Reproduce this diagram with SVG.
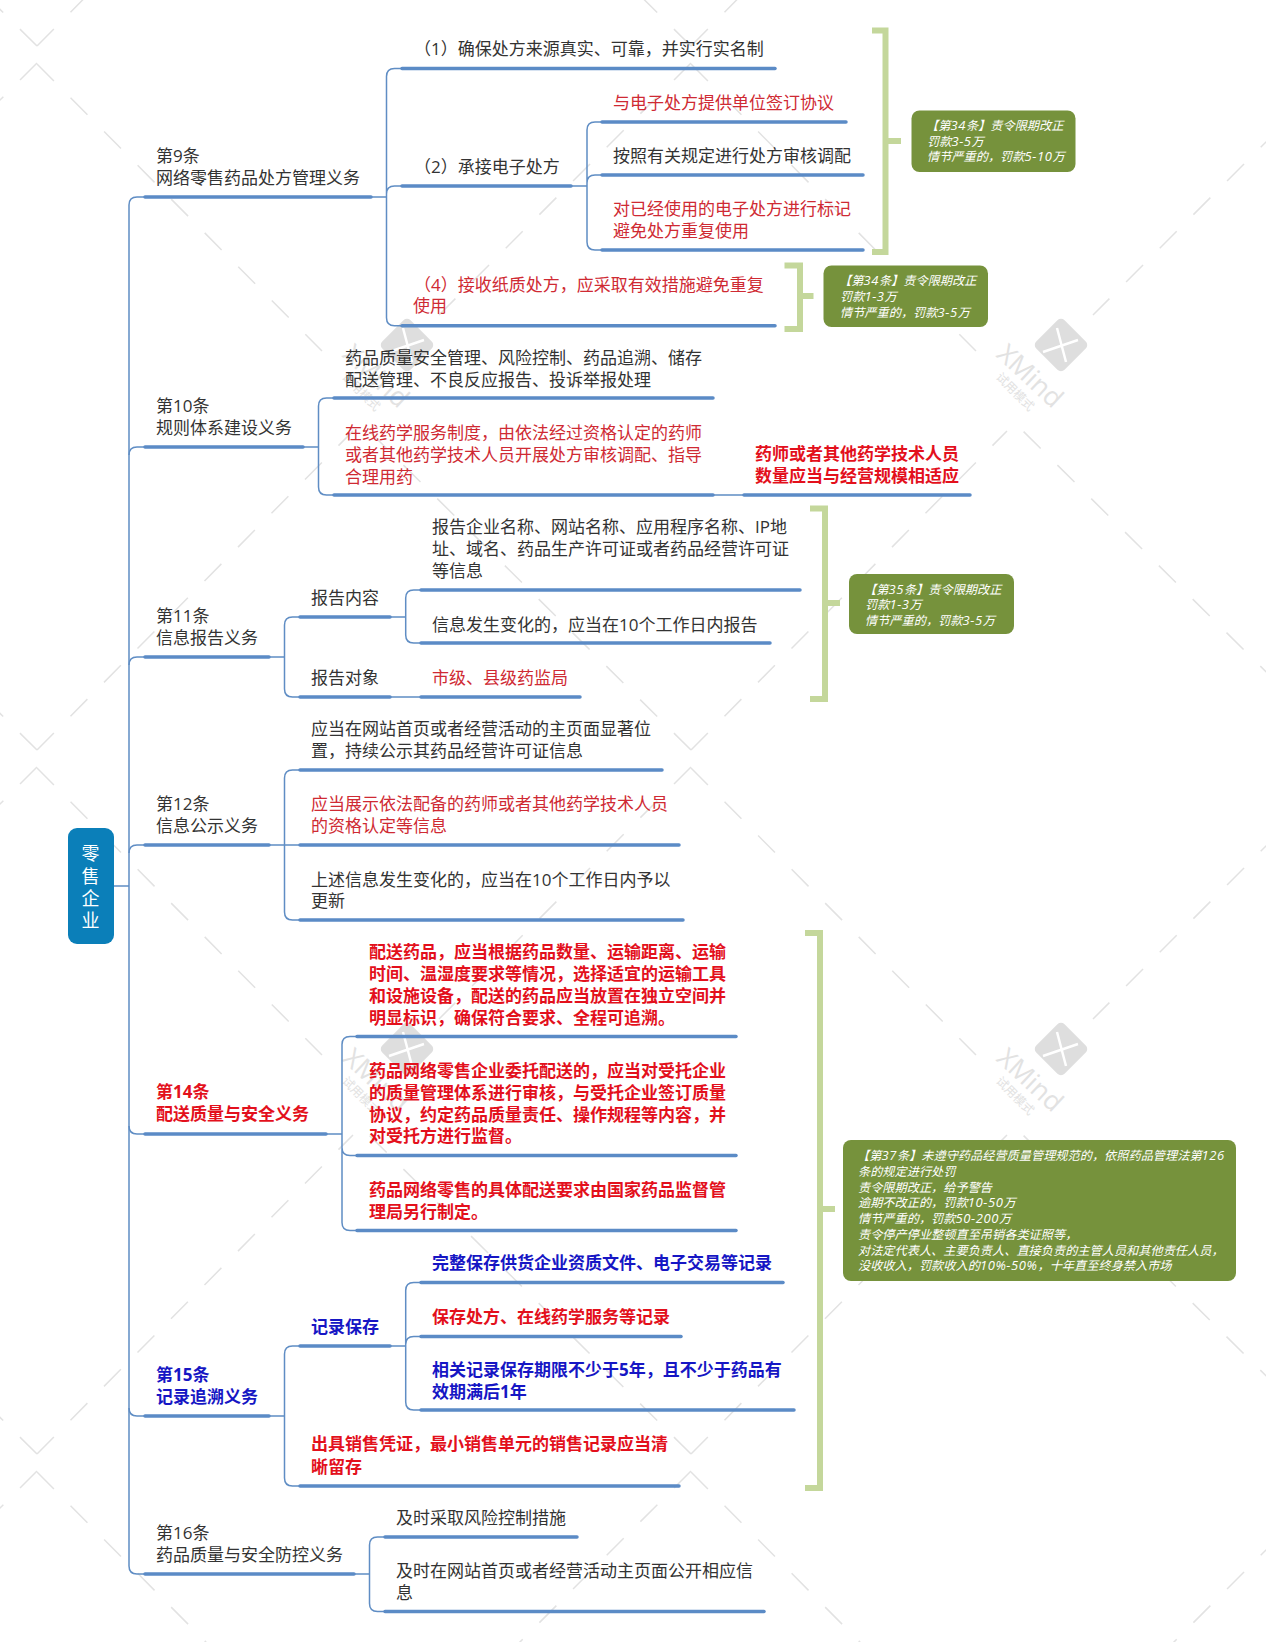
<svg xmlns="http://www.w3.org/2000/svg" width="1266" height="1642" viewBox="0 0 1266 1642">
<style>
text{font-family:"Open Sans","Noto Sans CJK SC",sans-serif;font-size:17px;fill:#333}
.r{fill:#cf2a33}
.rb{fill:#e3101c;font-weight:700}
.bb{fill:#1616c4;font-weight:700}
.n{font-size:12.2px;font-style:italic;fill:#fff}
.l{font-size:13px;letter-spacing:.6px}
.u{stroke:#5b8bc6;stroke-width:3.5;stroke-linecap:round;fill:none}
.c{stroke:#5f8dc4;stroke-width:1.5;fill:none}
.b{stroke:#c4d79b;stroke-width:6;fill:none}
.box{fill:#76923c}
.d{stroke:#e2e2e2;stroke-width:1.5;fill:none;stroke-dasharray:24 23.6}
.wt{fill:#e2e2e2}
</style>
<defs>
<g id="tile">
<path class="d" d="M37,64L322,351"/>
<path class="d" d="M691,63L439,315"/>
<path class="d" d="M37,750L353,431"/>
<path class="d" d="M691,750L369,431"/>
<rect x="387" y="325" width="40" height="40" rx="5" transform="rotate(45 407 345)" fill="#dedede"/>
<path d="M403,328L412,362M389,352L424,340" stroke="#fff" stroke-width="2.5" fill="none"/>
<text class="wt" x="376" y="385" text-anchor="middle" transform="rotate(43 376 376)" style="font-size:26.5px">XMind</text>
<text class="wt" x="361" y="396" text-anchor="middle" transform="rotate(45 361 392)" style="font-size:12px">试用模式</text>
</g>
</defs>
<rect width="1266" height="1642" fill="#fff"/>
<g id="watermark">
<use href="#tile" x="-654" y="-704"/><use href="#tile" x="0" y="-704"/><use href="#tile" x="654" y="-704"/>
<use href="#tile" x="-654" y="0"/><use href="#tile" x="0" y="0"/><use href="#tile" x="654" y="0"/>
<use href="#tile" x="-654" y="704"/><use href="#tile" x="0" y="704"/><use href="#tile" x="654" y="704"/>
<use href="#tile" x="-654" y="1408"/><use href="#tile" x="0" y="1408"/><use href="#tile" x="654" y="1408"/>
</g>
<g id="connectors">
<path class="c" d="M114,886H129M145,197H137Q129,197 129,205V1566Q129,1574 137,1574H145"/>
<path class="c" d="M129,455Q129,447 137,447H145M129,665Q129,657 137,657H145M129,853Q129,845 137,845H145M129,1126Q129,1134 137,1134H145M129,1408Q129,1416 137,1416H145"/>
<path class="c" d="M371,197H386.5M402,68.5H394.5Q386.5,68.5 386.5,76.5V317.7Q386.5,325.7 394.5,325.7H402M386.5,194Q386.5,186 394.5,186H402"/>
<path class="c" d="M571,186H587M602,122H595Q587,122 587,130V242Q587,250 595,250H602M587,183Q587,175 595,175H602"/>
<path class="c" d="M304,447H318.5M334,398H326.5Q318.5,398 318.5,406V487Q318.5,495 326.5,495H334M713,495H744"/>
<path class="c" d="M269,657H284.5M300,617H292.5Q284.5,617 284.5,625V689Q284.5,697 292.5,697H300M390,617H405.7M421,590H413.7Q405.7,590 405.7,598V635Q405.7,643 413.7,643H421M390,697H421"/>
<path class="c" d="M269,845H300M300,770H292.5Q284.5,770 284.5,778V912Q284.5,920 292.5,920H300"/>
<path class="c" d="M326,1134H342M357,1036.5H350Q342,1036.5 342,1044.5V1222.5Q342,1230.5 350,1230.5H357M342,1147.5Q342,1155.5 350,1155.5H357"/>
<path class="c" d="M269,1416H284.5M300,1346H292.5Q284.5,1346 284.5,1354V1478Q284.5,1486 292.5,1486H300M390,1346H405.7M421,1282.5H413.7Q405.7,1282.5 405.7,1290.5V1402Q405.7,1410 413.7,1410H421M405.7,1344.5Q405.7,1336.5 413.7,1336.5H421"/>
<path class="c" d="M354,1574H369.5M385,1537H377.5Q369.5,1537 369.5,1545V1603.5Q369.5,1611.5 377.5,1611.5H385"/>
<path class="b" d="M872,30.5H885.5V252H872M885.5,141H901"/>
<path class="b" d="M784.5,265.5H800V329H784.5M800,296H813.5"/>
<path class="b" d="M810,508.5H825V699H810M825,603H840"/>
<path class="b" d="M805,933H820V1488H805M820,1209H835"/>
</g>
<g id="root"><rect x="68" y="828" width="46" height="116" rx="9" fill="#0b7fb9"/>
<g text-anchor="middle"><text x="90.5" y="860" style="fill:#fff;font-size:18px">零</text><text x="90.5" y="883" style="fill:#fff;font-size:18px">售</text><text x="90.5" y="905" style="fill:#fff;font-size:18px">企</text><text x="90.5" y="927" style="fill:#fff;font-size:18px">业</text></g></g>

<g id="s9"><text><tspan x="156" y="162">第9条</tspan><tspan x="156" y="184">网络零售药品处方管理义务</tspan></text><path class="u" d="M145,197H371"/></g>
<g id="s9-1"><text x="414" y="55">（1）确保处方来源真实、可靠，并实行实名制</text><path class="u" d="M402,68.5H775"/></g>
<g id="s9-2"><text x="414" y="173">（2）承接电子处方</text><path class="u" d="M402,186H571"/></g>
<g id="s9-2a"><text class="r" x="613" y="108.5">与电子处方提供单位签订协议</text><path class="u" d="M602,122H846"/></g>
<g id="s9-2b"><text x="613" y="162">按照有关规定进行处方审核调配</text><path class="u" d="M602,175H863"/></g>
<g id="s9-2c"><text class="r"><tspan x="613" y="215">对已经使用的电子处方进行标记</tspan><tspan x="613" y="237">避免处方重复使用</tspan></text><path class="u" d="M602,250H863"/></g>
<g id="s9-4"><text class="r"><tspan x="414" y="290.5">（4）接收纸质处方，应采取有效措施避免重复</tspan><tspan x="413" y="312">使用</tspan></text><path class="u" d="M402,325.7H775"/></g>
<g id="n1"><rect class="box" x="911.5" y="110.5" width="164" height="61.5" rx="8"/><text class="n"><tspan x="926" y="130">【第<tspan class="l">34</tspan>条】责令限期改正</tspan><tspan x="927" y="146">罚款<tspan class="l">3-5</tspan>万</tspan><tspan x="927" y="161">情节严重的，罚款<tspan class="l">5-10</tspan>万</tspan></text></g>
<g id="n2"><rect class="box" x="823.5" y="265.5" width="164.5" height="61.5" rx="8"/><text class="n"><tspan x="839" y="285">【第<tspan class="l">34</tspan>条】责令限期改正</tspan><tspan x="840" y="301">罚款<tspan class="l">1-3</tspan>万</tspan><tspan x="840" y="317">情节严重的，罚款<tspan class="l">3-5</tspan>万</tspan></text></g>

<g id="s10"><text><tspan x="156" y="412">第10条</tspan><tspan x="156" y="434">规则体系建设义务</tspan></text><path class="u" d="M145,447H303"/></g>
<g id="s10-1"><text><tspan x="345" y="364">药品质量安全管理、风险控制、药品追溯、储存</tspan><tspan x="345" y="386">配送管理、不良反应报告、投诉举报处理</tspan></text><path class="u" d="M334,398H713"/></g>
<g id="s10-2"><text class="r"><tspan x="345" y="439">在线药学服务制度，由依法经过资格认定的药师</tspan><tspan x="345" y="461">或者其他药学技术人员开展处方审核调配、指导</tspan><tspan x="345" y="482.5">合理用药</tspan></text><path class="u" d="M334,495H713"/></g>
<g id="s10-3"><text class="rb"><tspan x="755" y="460">药师或者其他药学技术人员</tspan><tspan x="755" y="482">数量应当与经营规模相适应</tspan></text><path class="u" d="M744,495H970"/></g>

<g id="s11"><text><tspan x="156" y="622">第11条</tspan><tspan x="156" y="644">信息报告义务</tspan></text><path class="u" d="M145,657H269"/></g>
<g id="s11-1"><text x="311" y="603.5">报告内容</text><path class="u" d="M300,617H390"/></g>
<g id="s11-1a"><text><tspan x="432" y="533">报告企业名称、网站名称、应用程序名称、IP地</tspan><tspan x="432" y="555">址、域名、药品生产许可证或者药品经营许可证</tspan><tspan x="432" y="577">等信息</tspan></text><path class="u" d="M421,590H800"/></g>
<g id="s11-1b"><text x="432" y="630.5">信息发生变化的，应当在10个工作日内报告</text><path class="u" d="M421,643H770"/></g>
<g id="s11-2"><text x="311" y="684">报告对象</text><path class="u" d="M300,697H390"/></g>
<g id="s11-2a"><text class="r" x="432" y="684">市级、县级药监局</text><path class="u" d="M421,697H580"/></g>
<g id="n3"><rect class="box" x="849" y="574" width="165" height="60" rx="8"/><text class="n"><tspan x="864" y="594">【第<tspan class="l">35</tspan>条】责令限期改正</tspan><tspan x="865" y="609">罚款<tspan class="l">1-3</tspan>万</tspan><tspan x="865" y="625">情节严重的，罚款<tspan class="l">3-5</tspan>万</tspan></text></g>

<g id="s12"><text><tspan x="156" y="810">第12条</tspan><tspan x="156" y="832">信息公示义务</tspan></text><path class="u" d="M145,845H269"/></g>
<g id="s12-1"><text><tspan x="311" y="735">应当在网站首页或者经营活动的主页面显著位</tspan><tspan x="311" y="757">置，持续公示其药品经营许可证信息</tspan></text><path class="u" d="M300,770H662"/></g>
<g id="s12-2"><text class="r"><tspan x="311" y="810">应当展示依法配备的药师或者其他药学技术人员</tspan><tspan x="311" y="832">的资格认定等信息</tspan></text><path class="u" d="M300,845H679"/></g>
<g id="s12-3"><text><tspan x="311" y="885.5">上述信息发生变化的，应当在10个工作日内予以</tspan><tspan x="311" y="907">更新</tspan></text><path class="u" d="M300,920H683"/></g>

<g id="s14"><text class="rb"><tspan x="156" y="1098">第14条</tspan><tspan x="156" y="1120">配送质量与安全义务</tspan></text><path class="u" d="M145,1134H326"/></g>
<g id="s14-1"><text class="rb"><tspan x="369" y="958">配送药品，应当根据药品数量、运输距离、运输</tspan><tspan x="369" y="980">时间、温湿度要求等情况，选择适宜的运输工具</tspan><tspan x="369" y="1002">和设施设备，配送的药品应当放置在独立空间并</tspan><tspan x="369" y="1024">明显标识，确保符合要求、全程可追溯。</tspan></text><path class="u" d="M357,1036.5H736"/></g>
<g id="s14-2"><text class="rb"><tspan x="369" y="1077">药品网络零售企业委托配送的，应当对受托企业</tspan><tspan x="369" y="1099">的质量管理体系进行审核，与受托企业签订质量</tspan><tspan x="369" y="1120.5">协议，约定药品质量责任、操作规程等内容，并</tspan><tspan x="369" y="1142">对受托方进行监督。</tspan></text><path class="u" d="M357,1155.5H736"/></g>
<g id="s14-3"><text class="rb"><tspan x="369" y="1196">药品网络零售的具体配送要求由国家药品监督管</tspan><tspan x="369" y="1218">理局另行制定。</tspan></text><path class="u" d="M357,1230.5H736"/></g>

<g id="s15"><text class="bb"><tspan x="156" y="1380.5">第15条</tspan><tspan x="156" y="1402.5">记录追溯义务</tspan></text><path class="u" d="M145,1416H269"/></g>
<g id="s15-1"><text class="bb" x="311" y="1332.5">记录保存</text><path class="u" d="M300,1346H390"/></g>
<g id="s15-1a"><text class="bb" x="432" y="1269">完整保存供货企业资质文件、电子交易等记录</text><path class="u" d="M421,1282.5H783"/></g>
<g id="s15-1b"><text class="rb" x="432" y="1323">保存处方、在线药学服务等记录</text><path class="u" d="M421,1336.5H681"/></g>
<g id="s15-1c"><text class="bb"><tspan x="432" y="1376">相关记录保存期限不少于5年，且不少于药品有</tspan><tspan x="432" y="1397.5">效期满后1年</tspan></text><path class="u" d="M421,1410H794"/></g>
<g id="s15-2"><text class="rb"><tspan x="311" y="1450">出具销售凭证，最小销售单元的销售记录应当清</tspan><tspan x="311" y="1472.5">晰留存</tspan></text><path class="u" d="M300,1486H679"/></g>
<g id="n4"><rect class="box" x="843" y="1140" width="393" height="141" rx="8"/><text class="n"><tspan x="857" y="1160">【第<tspan class="l">37</tspan>条】未遵守药品经营质量管理规范的，依照药品管理法第<tspan class="l">126</tspan></tspan><tspan x="858" y="1176">条的规定进行处罚</tspan><tspan x="858" y="1192">责令限期改正，给予警告</tspan><tspan x="858" y="1207">逾期不改正的，罚款<tspan class="l">10-50</tspan>万</tspan><tspan x="858" y="1223">情节严重的，罚款<tspan class="l">50-200</tspan>万</tspan><tspan x="858" y="1239">责令停产停业整顿直至吊销各类证照等，</tspan><tspan x="858" y="1255">对法定代表人、主要负责人、直接负责的主管人员和其他责任人员，</tspan><tspan x="858" y="1270">没收收入，罚款收入的<tspan class="l">10%-50%</tspan>，十年直至终身禁入市场</tspan></text></g>

<g id="s16"><text><tspan x="156" y="1539">第16条</tspan><tspan x="156" y="1561">药品质量与安全防控义务</tspan></text><path class="u" d="M145,1574H354"/></g>
<g id="s16-1"><text x="396" y="1523.5">及时采取风险控制措施</text><path class="u" d="M385,1537H577"/></g>
<g id="s16-2"><text><tspan x="396" y="1577">及时在网站首页或者经营活动主页面公开相应信</tspan><tspan x="396" y="1599">息</tspan></text><path class="u" d="M385,1611.5H764"/></g>
</svg>
